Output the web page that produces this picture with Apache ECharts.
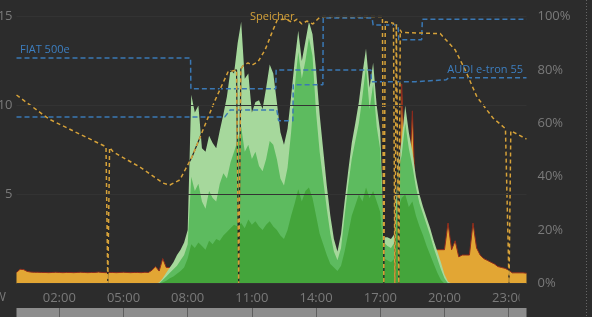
<!DOCTYPE html>
<html><head><meta charset="utf-8">
<script src="https://cdn.jsdelivr.net/npm/echarts@6/dist/echarts.min.js"></script>
<style>html,body{margin:0;padding:0;background:#2c2c2c;}#c{width:592px;height:317px;}</style>
</head><body><div id="c"></div>
<script>
// 10-minute time slots 00:00 .. 23:50 (category labels)
const slots = [];
for (let h = 0; h < 24; h++) for (let m = 0; m < 60; m += 10) slots.push(String(h).padStart(2,'0') + ':' + String(m).padStart(2,'0'));
const tickSlots = ['02:00','05:00','08:00','11:00','14:00','17:00','20:00','23:00'];

// house consumption (kW), per 10-min slot
const house = [
0.62,0.8,0.78,0.68,0.64,0.63,0.63,0.62,0.62,0.61,
0.62,0.63,0.62,0.61,0.62,0.62,0.61,0.62,0.63,0.62,
0.61,0.62,0.62,0.64,0.62,0.61,0.62,0.62,0.61,0.62,
0.63,0.62,0.61,0.62,0.62,0.61,0.63,0.62,0.75,0.95,
0.7,1.4,0.9,0.9,1.0,1.0,1.1,1.0,1.1,1.2,
1.1,1.0,1.1,1.0,1.2,1.1,1.0,1.1,1.2,1.1,
1.0,1.1,1.0,1.2,1.1,1.0,1.1,1.0,1.1,1.2,
1.1,1.0,1.1,1.0,1.1,1.0,1.2,1.1,1.0,1.1,
1.0,1.1,1.2,1.1,1.0,1.1,1.0,1.1,1.0,1.1,
1.2,1.1,1.0,1.1,1.0,1.1,1.2,1.1,1.0,1.1,
1.0,1.1,1.2,1.1,1.0,1.1,1.2,1.2,11.2,6.0,
5.0,9.7,4.0,2.5,2.0,1.9,1.9,1.9,1.9,1.9,
1.9,3.4,1.9,2.4,1.5,1.6,1.6,1.6,3.4,2.0,
1.6,1.4,1.3,1.2,1.1,0.95,0.9,0.85,0.75,0.6,
0.6,0.6,0.6,0.58
];
// PV layers (kW)
const pvLight = [
0,0,0,0,0,0,0,0,0,0,
0,0,0,0,0,0,0,0,0,0,
0,0,0,0,0,0,0,0,0,0,
0,0,0,0,0,0,0,0,0,0,
0.05,0.3,0.6,0.9,1.2,1.6,1.9,2.3,3.0,10.6,
9.6,10.0,7.6,7.4,8.3,7.9,7.6,8.6,9.5,10.5,
12.0,11.8,13.5,14.7,11.5,11.8,9.6,10.2,10.3,9.8,
11.0,12.3,11.8,10.2,8.5,7.8,8.7,10.5,12.5,14.2,
12.5,13.6,14.7,14.0,12.0,9.5,7.5,5.5,3.8,2.5,
1.8,2.8,4.6,6.3,7.9,9.0,10.2,11.8,13.2,11.0,
12.4,10.0,8.5,2.6,2.6,2.5,2.8,7.0,8.0,10.0,
8.5,7.4,6.0,5.0,4.3,3.7,3.1,2.4,1.8,1.2,
0.5,0.1,0,0,0,0,0,0,0,0,
0,0,0,0,0,0,0,0,0,0,
0,0,0,0
];
const pvMid = [
0,0,0,0,0,0,0,0,0,0,
0,0,0,0,0,0,0,0,0,0,
0,0,0,0,0,0,0,0,0,0,
0,0,0,0,0,0,0,0,0,0,
0,0.2,0.4,0.6,0.8,1.0,1.3,1.6,2.2,6.0,
5.2,5.6,4.6,4.2,5.2,4.8,4.6,5.6,6.2,5.9,
6.8,7.4,8.0,8.8,7.4,7.8,7.0,7.4,6.6,6.3,
7.0,8.0,7.8,7.0,5.9,5.5,6.5,8.5,11.0,13.0,
11.5,12.5,13.8,12.8,9.6,7.4,5.8,4.2,2.8,1.8,
1.3,2.0,3.8,5.5,7.0,8.0,9.0,10.5,12.2,9.8,
11.2,8.8,7.5,2.3,2.1,2.0,2.3,6.3,7.2,9.0,
7.6,6.6,5.4,4.5,3.9,3.3,2.7,2.0,1.4,0.8,
0.3,0,0,0,0,0,0,0,0,0,
0,0,0,0,0,0,0,0,0,0,
0,0,0,0
];
const pvDark = [
0,0,0,0,0,0,0,0,0,0,
0,0,0,0,0,0,0,0,0,0,
0,0,0,0,0,0,0,0,0,0,
0,0,0,0,0,0,0,0,0,0,
0,0.05,0.15,0.3,0.4,0.55,0.7,0.9,1.4,2.2,
2.0,2.3,2.1,1.9,2.4,2.2,2.5,2.4,2.7,2.9,
3.1,3.3,3.2,3.4,3.1,3.6,3.3,3.5,3.2,3.0,
3.3,3.5,3.2,3.0,2.7,2.5,3.0,3.8,4.5,5.3,
4.6,5.2,5.4,4.8,3.8,2.8,2.2,1.6,1.1,0.9,
0.7,1.0,1.8,2.8,3.8,4.4,5.0,4.6,5.4,4.8,
5.2,4.6,4.0,1.4,1.3,1.2,1.4,4.2,4.8,5.0,
4.3,4.6,3.8,3.2,2.7,2.1,1.6,1.1,0.6,0.2,
0,0,0,0,0,0,0,0,0,0,
0,0,0,0,0,0,0,0,0,0,
0,0,0,0
];
// battery state of charge [minute of day, %]
const speicher = [[0,70.6],[85,62.2],[94,61.4],[178,55.9],[251,51.2],[256,0],[261,50.9],[271,49.3],[346,43.6],[411,37.6],[430,36.9],[458,38.8],[492,47.4],[515,54.9],[557,68.7],[593,79.2],[617,80],[623,0],[629,80.3],[635,81.5],[649,82.6],[660,81.8],[677,83],[697,87.5],[717,94.2],[731,98.7],[753,99],[773,97.9],[787,99],[800,97.2],[814,98.3],[831,97.2],[851,99.8],[860,100],[1026,100],[1030,0],[1034,98],[1057,97.5],[1061,0],[1065,97.4],[1068,97.3],[1072,0],[1076,95],[1080,94],[1188,93.6],[1230,87.5],[1258,80],[1291,69.9],[1336,62],[1371,58],[1376,57.8],[1381,0],[1386,57.2],[1430,54.1]];
// car SoC lines [minute of day, %]
const car1 = [[0,84.5],[488,84.5],[489,72.9],[727,72.9],[728,80],[994,80],[995,75.6],[1120,75.6],[1125,76.3],[1205,76.3],[1212,77.1],[1430,77.1]];
const car2 = [[0,62.4],[584,62.4],[599,65],[730,65],[735,61],[775,61],[776,74.4],[859,74.4],[860,99.4],[997,99.4],[1000,96.8],[1070,96.8],[1072,91.3],[1136,91.3],[1138,99],[1430,99]];
const kwTicks = [0,5,10,15];
const pctTicks = [0,20,40,60,80,100];

const BG = '#2c2c2c';
const LBL = '#7a7a7a';
const isTick = (i, v) => tickSlots.indexOf(v) >= 0;
const chart = echarts.init(document.getElementById('c'));
const area = (name, data, color, z, line) => ({
  name, type:'line', xAxisIndex:0, yAxisIndex:0, data, symbol:'none', z,
  lineStyle: line || {width:0}, areaStyle:{color, opacity:1}, emphasis:{disabled:true}
});
chart.setOption({
  animation:false,
  backgroundColor:BG,
  textStyle:{fontFamily:'"Open Sans", sans-serif'},
  grid:{left:16.5, right:65.5, top:16.5, bottom:33.5, containLabel:false, outerBoundsMode:'none'},
  xAxis:[
    {type:'category', data:slots, boundaryGap:false,
     axisLine:{show:false},
     axisTick:{show:true, inside:true, length:6, interval:isTick, lineStyle:{color:'#3a3a3a'}},
     axisLabel:{interval:isTick, color:LBL, fontSize:13, margin:8, hideOverlap:false},
     splitLine:{show:false}},
    {type:'value', min:0, max:1430, show:false},
    {type:'category', data:slots, boundaryGap:false, position:'bottom', offset:24.5, z:10,
     axisLine:{show:false}, axisLabel:{show:false},
     axisTick:{show:true, length:9, interval:isTick, lineStyle:{color:'#5e5e5e'}},
     splitLine:{show:false}}
  ],
  yAxis:[
    {type:'value', min:kwTicks[0], max:kwTicks[3], interval:5, z:10,
     axisLine:{show:false}, axisTick:{show:false},
     axisLabel:{color:LBL, fontSize:13, margin:4, formatter:v => v === 0 ? '' : String(v)},
     splitLine:{show:true, lineStyle:{color:'#333333', width:1}}},
    {type:'value', min:pctTicks[0], max:pctTicks[5], interval:20, position:'right',
     axisLine:{show:false}, axisTick:{show:false},
     axisLabel:{color:LBL, fontSize:13, margin:11, formatter:'{value}%'},
     splitLine:{show:false}}
  ],
  series:[
    area('Verbrauch', house, '#e2a634', 2, {color:'#8e2a1c', width:1}),
    area('PV', pvLight, '#a6d89c', 3),
    area('PV 2', pvMid, '#5dbb5f', 4),
    area('PV 3', pvDark, '#44a53b', 5),
    {name:'FIAT 500e', type:'line', xAxisIndex:1, yAxisIndex:1, data:car1, symbol:'none', z:6,
     lineStyle:{color:'#3a78b4', width:1.5, type:[5,3]}},
    {name:'Wallbox 2', type:'line', xAxisIndex:1, yAxisIndex:1, data:car2, symbol:'none', z:6,
     lineStyle:{color:'#3a78b4', width:1.5, type:[5,3]}},
    {name:'Speicher-bg', type:'line', xAxisIndex:1, yAxisIndex:1, data:speicher, symbol:'none', z:7,
     lineStyle:{color:'#262626', width:1.2}},
    {name:'Speicher', type:'line', xAxisIndex:1, yAxisIndex:1, data:speicher, symbol:'none', z:8,
     lineStyle:{color:'#d6a23a', width:1.5, type:[4,3]}}
  ],
  graphic:{elements:[
    {type:'rect', z:1, shape:{x:16.5, y:308, width:510, height:10}, style:{fill:'#8d8d8d'}},
    {type:'rect', z:50, shape:{x:519.5, y:287, width:14, height:18}, style:{fill:BG}},
    {type:'line', z:50, shape:{x1:586.5, y1:0, x2:586.5, y2:317}, style:{stroke:'#666', lineWidth:1, lineDash:[1,2]}},
    {type:'text', z:50, x:20, y:50, style:{text:'FIAT 500e', fill:'#3d7fc1', font:'11px "Open Sans"', textAlign:'left', textVerticalAlign:'middle'}},
    {type:'text', z:50, x:523, y:70, style:{text:'AUDI e-tron 55', fill:'#3d7fc1', font:'11px "Open Sans"', textAlign:'right', textVerticalAlign:'middle'}},
    {type:'text', z:50, x:250, y:17, style:{text:'Speicher', fill:'#d6a23a', font:'11px "Open Sans"', textAlign:'left', textVerticalAlign:'middle'}},
    {type:'text', z:50, x:6, y:297, style:{text:'kW', fill:LBL, font:'13px "Open Sans"', textAlign:'right', textVerticalAlign:'middle'}}
  ]}
});
</script></body></html>
